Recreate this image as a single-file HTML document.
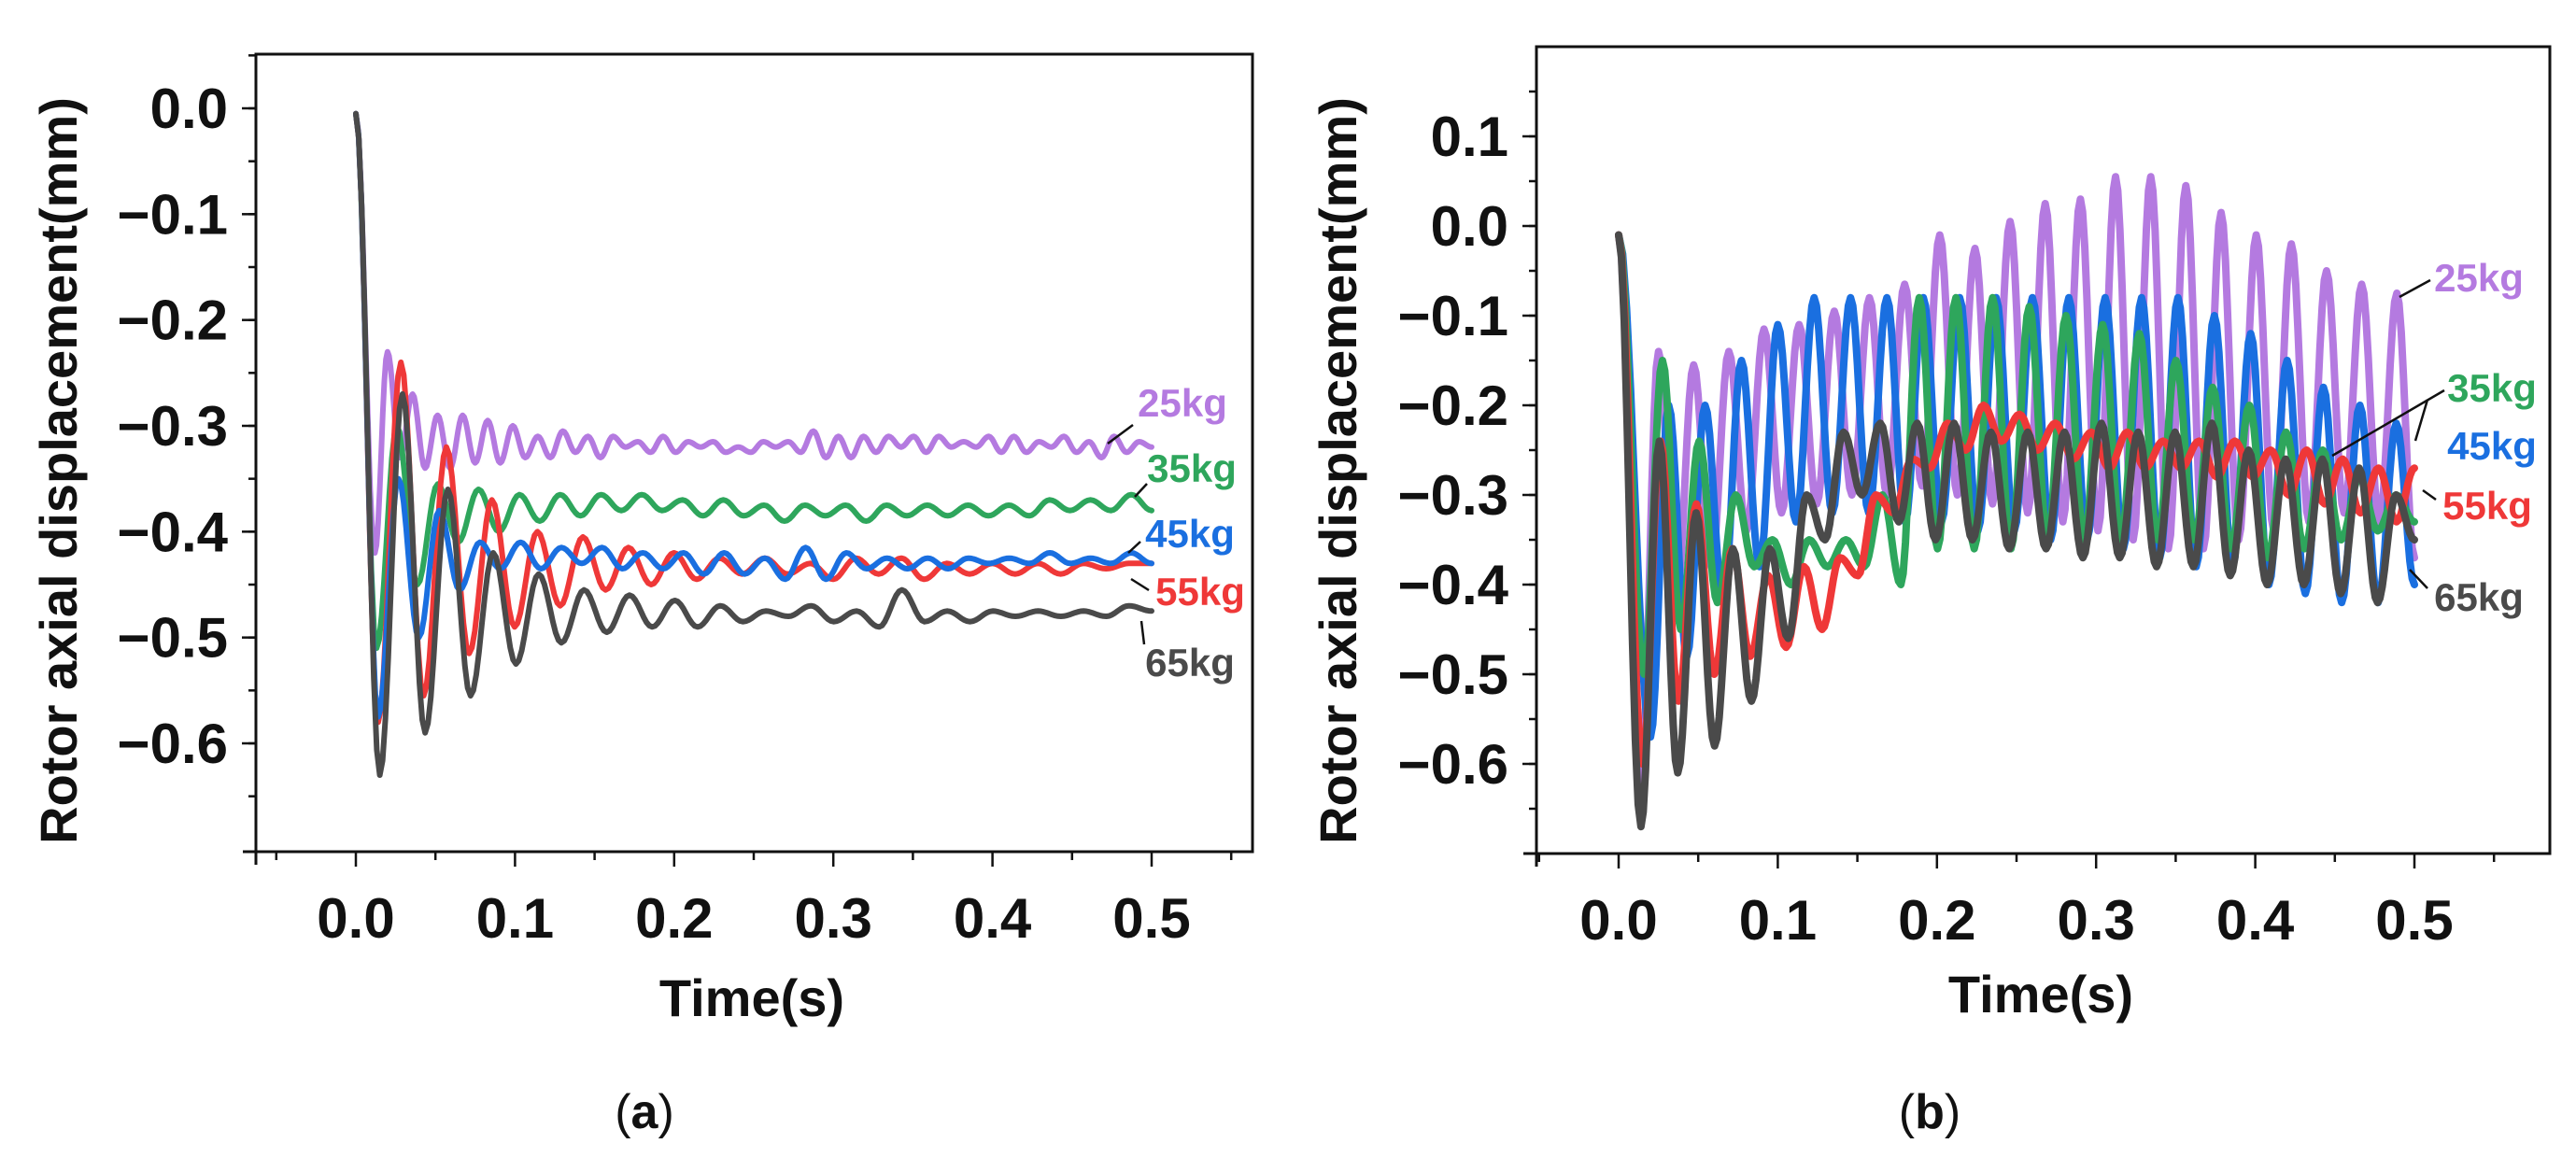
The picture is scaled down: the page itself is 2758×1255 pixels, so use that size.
<!DOCTYPE html>
<html><head><meta charset="utf-8"><style>
html,body{margin:0;padding:0;background:#fff;}
svg{display:block;}
text{font-family:"Liberation Sans",sans-serif;}
</style></head><body>
<svg id="fig" width="2758" height="1255" viewBox="0 0 2758 1255" xmlns="http://www.w3.org/2000/svg"></svg>
<script>
// ---- Data: panel (a) ----
const tickXA = [0.0,0.1,0.2,0.3,0.4,0.5];
const tickYA = [0.0,-0.1,-0.2,-0.3,-0.4,-0.5,-0.6];
const tickXLabels = ["0.0","0.1","0.2","0.3","0.4","0.5"];
const tickYALabels = ["0.0","\u22120.1","\u22120.2","\u22120.3","\u22120.4","\u22120.5","\u22120.6"];
const seriesNames = ["25kg","35kg","45kg","55kg","65kg"];
// extremum values (alternating), first at t0, last at 0.5
const a25 = [-0.42,-0.23,-0.33,-0.27,-0.34,-0.29,-0.34,-0.29,-0.335,-0.295,-0.335,-0.30,-0.33,-0.31,-0.33,-0.305,-0.325,-0.31,-0.33,-0.31,-0.32,-0.315,-0.325,-0.31,-0.325,-0.315,-0.32,-0.315,-0.325,-0.32,-0.325,-0.315,-0.32,-0.315,-0.325,-0.305,-0.33,-0.31,-0.33,-0.31,-0.325,-0.31,-0.32,-0.31,-0.325,-0.31,-0.32,-0.315,-0.32,-0.31,-0.325,-0.31,-0.325,-0.315,-0.32,-0.31,-0.325,-0.315,-0.33,-0.31,-0.325,-0.315,-0.32];
const a35 = [-0.51,-0.3,-0.45,-0.355,-0.41,-0.36,-0.40,-0.365,-0.39,-0.365,-0.385,-0.365,-0.38,-0.365,-0.38,-0.37,-0.385,-0.37,-0.385,-0.375,-0.39,-0.375,-0.385,-0.375,-0.39,-0.375,-0.385,-0.375,-0.385,-0.375,-0.385,-0.375,-0.385,-0.37,-0.38,-0.37,-0.38,-0.365,-0.38];
const a45 = [-0.575,-0.35,-0.5,-0.38,-0.455,-0.41,-0.435,-0.41,-0.435,-0.415,-0.43,-0.415,-0.435,-0.42,-0.435,-0.42,-0.44,-0.42,-0.44,-0.425,-0.445,-0.415,-0.445,-0.42,-0.435,-0.425,-0.435,-0.425,-0.435,-0.425,-0.43,-0.425,-0.43,-0.42,-0.43,-0.425,-0.43,-0.42,-0.43];
const a55 = [-0.58,-0.24,-0.555,-0.32,-0.515,-0.37,-0.49,-0.40,-0.47,-0.405,-0.455,-0.415,-0.45,-0.42,-0.445,-0.425,-0.44,-0.425,-0.44,-0.43,-0.445,-0.425,-0.44,-0.425,-0.445,-0.43,-0.44,-0.43,-0.44,-0.43,-0.44,-0.43,-0.435,-0.43,-0.43];
const a65 = [-0.63,-0.27,-0.59,-0.36,-0.555,-0.42,-0.525,-0.44,-0.505,-0.455,-0.495,-0.46,-0.49,-0.465,-0.49,-0.47,-0.485,-0.475,-0.48,-0.47,-0.485,-0.475,-0.49,-0.455,-0.485,-0.475,-0.485,-0.475,-0.48,-0.475,-0.48,-0.475,-0.48,-0.47,-0.475];
// ---- Data: panel (b) ----
const tickYB = [0.1,0.0,-0.1,-0.2,-0.3,-0.4,-0.5,-0.6];
const tickYBLabels = ["0.1","0.0","\u22120.1","\u22120.2","\u22120.3","\u22120.4","\u22120.5","\u22120.6"];
const b25 = [-0.62,-0.14,-0.42,-0.155,-0.38,-0.14,-0.34,-0.115,-0.32,-0.11,-0.31,-0.095,-0.30,-0.08,-0.30,-0.065,-0.29,-0.01,-0.30,-0.025,-0.31,0.005,-0.32,0.025,-0.33,0.03,-0.34,0.055,-0.35,0.055,-0.36,0.045,-0.36,0.015,-0.35,-0.01,-0.34,-0.02,-0.33,-0.05,-0.32,-0.065,-0.33,-0.075,-0.37];
const b35 = [-0.5,-0.15,-0.45,-0.24,-0.42,-0.30,-0.38,-0.35,-0.40,-0.35,-0.38,-0.35,-0.38,-0.30,-0.40,-0.08,-0.36,-0.08,-0.36,-0.08,-0.36,-0.09,-0.35,-0.10,-0.35,-0.11,-0.35,-0.12,-0.35,-0.15,-0.35,-0.18,-0.36,-0.20,-0.37,-0.23,-0.36,-0.25,-0.35,-0.28,-0.34,-0.30,-0.33];
const b45 = [-0.57,-0.20,-0.48,-0.20,-0.42,-0.15,-0.38,-0.11,-0.33,-0.08,-0.32,-0.08,-0.32,-0.08,-0.33,-0.08,-0.33,-0.08,-0.34,-0.08,-0.34,-0.08,-0.35,-0.08,-0.35,-0.08,-0.36,-0.08,-0.37,-0.08,-0.38,-0.10,-0.38,-0.12,-0.40,-0.15,-0.41,-0.18,-0.42,-0.20,-0.42,-0.22,-0.40];
const b55 = [-0.60,-0.24,-0.53,-0.31,-0.50,-0.36,-0.48,-0.39,-0.47,-0.38,-0.45,-0.37,-0.39,-0.30,-0.32,-0.26,-0.27,-0.22,-0.25,-0.20,-0.24,-0.21,-0.25,-0.22,-0.26,-0.23,-0.27,-0.23,-0.27,-0.24,-0.27,-0.24,-0.28,-0.24,-0.28,-0.25,-0.30,-0.25,-0.31,-0.26,-0.32,-0.27,-0.33,-0.27];
const b65 = [-0.67,-0.24,-0.61,-0.32,-0.58,-0.36,-0.53,-0.36,-0.46,-0.30,-0.35,-0.23,-0.30,-0.22,-0.33,-0.22,-0.35,-0.22,-0.35,-0.23,-0.36,-0.23,-0.36,-0.23,-0.37,-0.22,-0.37,-0.23,-0.38,-0.23,-0.38,-0.22,-0.39,-0.25,-0.40,-0.26,-0.40,-0.26,-0.41,-0.27,-0.42,-0.30,-0.35];

const NS="http://www.w3.org/2000/svg";
const svg=document.getElementById('fig');
function mk(tag,attrs,parent){const e=document.createElementNS(NS,tag);for(const k in attrs)e.setAttribute(k,attrs[k]);(parent||svg).appendChild(e);return e;}
const colors={"25kg":"#b47ae0","35kg":"#2ea65c","45kg":"#1a6fe0","55kg":"#ef3838","65kg":"#4a4a4a"};

function panel(cfg){
  const g=mk('g',{});
  
  
  const xs=v=>cfg.x0+(v-0)/(0.5)*(cfg.x5-cfg.x0);
  const ys=v=>cfg.yA+(v-cfg.vA)/(cfg.vB-cfg.vA)*(cfg.yB-cfg.yA);
  const cp=mk('clipPath',{id:cfg.name+'-clip'},g);
  mk('rect',{x:cfg.L,y:cfg.T,width:cfg.R-cfg.L,height:cfg.B-cfg.T},cp);
  const lg=mk('g',{'clip-path':'url(#'+cfg.name+'-clip)'},g);
  cfg.order.forEach(s=>{
    const vals=s.vals;
    const pts=[[0,cfg.startV]];
    const h=(0.5-s.t0)/(vals.length-1);
    vals.forEach((v,i)=>pts.push([s.t0+i*h,v]));
    let d='M'+xs(pts[0][0]).toFixed(1)+','+ys(pts[0][1]).toFixed(1);
    for(let i=1;i<pts.length;i++){
      const [ta,va]=pts[i-1],[tb,vb]=pts[i];
      for(let k=1;k<=8;k++){const f=k/8;const w=(1-Math.cos(Math.PI*f))/2;
        d+=' L'+xs(ta+(tb-ta)*f).toFixed(1)+','+ys(va+(vb-va)*w).toFixed(1);}
    }
    const p=mk('path',{d:d,fill:'none',stroke:colors[s.key],'stroke-width':cfg.lw,'stroke-linejoin':'round','stroke-linecap':'round'},lg);
    
    
  });
  const fr=mk('rect',{x:cfg.L,y:cfg.T,width:cfg.R-cfg.L,height:cfg.B-cfg.T,fill:'none',stroke:'#111','stroke-width':3},g);
  
  
  mk('line',{x1:cfg.L-14,y1:cfg.B,x2:cfg.R,y2:cfg.B,stroke:'#111','stroke-width':3},g);
  mk('line',{x1:cfg.L,y1:cfg.T,x2:cfg.L,y2:cfg.B+14,stroke:'#111','stroke-width':3},g);
  for(let i=-1;i<=11;i++){const v=i*0.05;const x=xs(v);const major=(i%2===0);
    mk('line',{x1:x,y1:cfg.B,x2:x,y2:cfg.B+(major?16:9),stroke:'#111','stroke-width':2.5},g);}
  tickXA.forEach((v,i)=>{const t=mk('text',{x:xs(v),y:cfg.B+92,'text-anchor':'middle','font-size':60,'font-weight':'bold',fill:'#111'},g);t.textContent=tickXLabels[i];
    });
  cfg.minorY.forEach(v=>{const y=ys(v);mk('line',{x1:cfg.L,y1:y,x2:cfg.L-8,y2:y,stroke:'#111','stroke-width':2.5},g);});
  cfg.ticksY.forEach((v,i)=>{const y=ys(v);mk('line',{x1:cfg.L,y1:y,x2:cfg.L-15,y2:y,stroke:'#111','stroke-width':2.5},g);
    const t=mk('text',{x:cfg.L-30,y:y+21,'text-anchor':'end','font-size':60,'font-weight':'bold',fill:'#111'},g);t.textContent=cfg.labelsY[i];
    });
  const xt=mk('text',{x:cfg.xtX,y:cfg.xtY,'text-anchor':'middle','font-size':56,'font-weight':'bold',fill:'#111'},g);xt.textContent='Time(s)';
  
  const yt=mk('text',{x:0,y:0,'text-anchor':'middle','font-size':56,'font-weight':'bold',fill:'#111',transform:'translate('+cfg.ytX+','+cfg.ytY+') rotate(-90)'},g);yt.textContent='Rotor axial displacement(mm)';
  
  cfg.labels.forEach(l=>{
    if(l.lx) mk('line',{x1:l.lx[0],y1:l.lx[1],x2:l.lx[2],y2:l.lx[3],stroke:'#111','stroke-width':2.5},g);
    const t=mk('text',{x:l.x,y:l.y,'text-anchor':'middle','font-size':42,'font-weight':'bold',fill:colors[l.key]},g);t.textContent=l.key;
    });
  const cap=mk('text',{x:cfg.capX,y:1208,'text-anchor':'middle','font-size':52,'font-family':'Liberation Serif',fill:'#111'},g);
  cap.innerHTML=cfg.cap;
  
}

const minorA=[];for(let i=-13;i<=1;i++)minorA.push(i*0.05);
const minorB=[];for(let i=-13;i<=3;i++)minorB.push(i*0.05);

panel({name:'panel-a',L:274,R:1341,T:58,B:912,x0:381,x5:1233,yA:116,vA:0,yB:796,vB:-0.6,lw:6,startV:-0.005,
  ticksY:tickYA,labelsY:tickYALabels,minorY:minorA,xtX:805,xtY:1088,ytX:82,ytY:504,capX:690,cap:'(<tspan font-weight="bold">a</tspan>)',
  order:[{key:'25kg',vals:a25,t0:0.012},{key:'35kg',vals:a35,t0:0.013},{key:'55kg',vals:a55,t0:0.014},{key:'45kg',vals:a45,t0:0.014},{key:'65kg',vals:a65,t0:0.015}],
  labels:[{key:'25kg',x:1266,y:446,lx:[1186,475,1213,455]},{key:'35kg',x:1276,y:516,lx:[1215,532,1228,518]},{key:'45kg',x:1274,y:586,lx:[1208,592,1221,580]},{key:'55kg',x:1285,y:648,lx:[1211,620,1230,632]},{key:'65kg',x:1274,y:724,lx:[1222,665,1225,690]}]});

panel({name:'panel-b',L:1645,R:2730,T:50,B:914,x0:1733,x5:2585,yA:146,vA:0.1,yB:818,vB:-0.6,lw:8,startV:-0.01,
  ticksY:tickYB,labelsY:tickYBLabels,minorY:minorB,xtX:2185,xtY:1084,ytX:1452,ytY:504,capX:2066,cap:'(<tspan font-weight="bold">b</tspan>)',
  order:[{key:'25kg',vals:b25,t0:0.014},{key:'45kg',vals:b45,t0:0.02},{key:'35kg',vals:b35,t0:0.016},{key:'55kg',vals:b55,t0:0.015},{key:'65kg',vals:b65,t0:0.014}],
  labels:[{key:'25kg',x:2654,y:312,lx:[2569,318,2602,300]},{key:'35kg',x:2668,y:430,lx:[2497,488,2617,418]},{key:'45kg',x:2668,y:492,lx:[2586,472,2599,428]},{key:'55kg',x:2663,y:556,lx:[2594,525,2608,535]},{key:'65kg',x:2654,y:654,lx:[2580,610,2599,630]}]});
</script>
</body></html>
